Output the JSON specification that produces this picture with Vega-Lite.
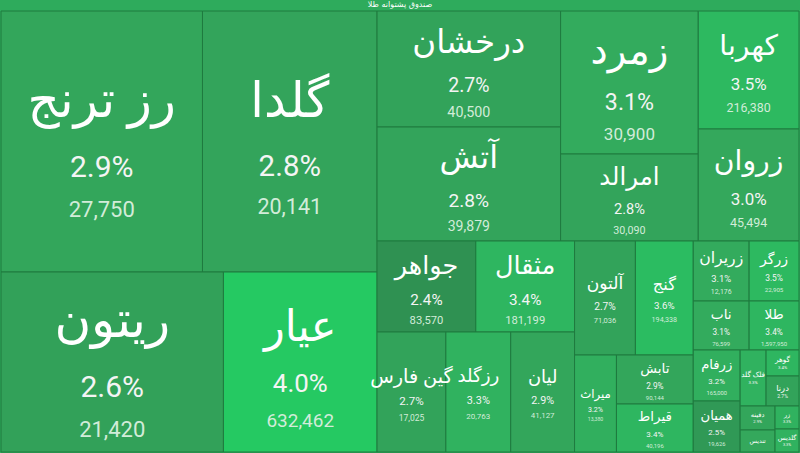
{
  "$schema": "https://vega.github.io/schema/vega-lite/v6.json",
  "width": 800,
  "height": 453,
  "autosize": {"type": "fit", "contains": "padding"},
  "padding": 0,
  "background": "#2eab5c",
  "config": {"view": {"stroke": null}},
  "title": {"text": "صندوق پشتوانه طلا", "fontSize": 8, "color": "white", "offset": 2, "fontWeight": "normal", "font": "DejaVu Sans", "anchor": "middle"},
  "data": {"values": [
    {"name": "رز ترنج", "pct": 0.029, "value": 27750, "x0": 0, "x1": 202, "y0": 12, "y1": 273},
    {"name": "گلدا", "pct": 0.028, "value": 20141, "x0": 202, "x1": 377, "y0": 12, "y1": 273},
    {"name": "ریتون", "pct": 0.026, "value": 21420, "x0": 0, "x1": 223, "y0": 273, "y1": 453},
    {"name": "عیار", "pct": 0.040, "value": 632462, "x0": 223, "x1": 377, "y0": 273, "y1": 453},
    {"name": "درخشان", "pct": 0.027, "value": 40500, "x0": 377, "x1": 561, "y0": 12, "y1": 128},
    {"name": "آتش", "pct": 0.028, "value": 39879, "x0": 377, "x1": 561, "y0": 128, "y1": 242},
    {"name": "زمرد", "pct": 0.031, "value": 30900, "x0": 561, "x1": 699, "y0": 12, "y1": 155},
    {"name": "امرالد", "pct": 0.028, "value": 30090, "x0": 561, "x1": 699, "y0": 155, "y1": 242},
    {"name": "کهربا", "pct": 0.035, "value": 216380, "x0": 699, "x1": 800, "y0": 12, "y1": 130},
    {"name": "زروان", "pct": 0.030, "value": 45494, "x0": 699, "x1": 800, "y0": 130, "y1": 242},
    {"name": "جواهر", "pct": 0.024, "value": 83570, "x0": 377, "x1": 476, "y0": 242, "y1": 333},
    {"name": "مثقال", "pct": 0.034, "value": 181199, "x0": 476, "x1": 575, "y0": 242, "y1": 333},
    {"name": "گین فارس", "pct": 0.027, "value": 17025, "x0": 377, "x1": 446, "y0": 333, "y1": 453},
    {"name": "رزگلد", "pct": 0.033, "value": 20763, "x0": 446, "x1": 511, "y0": 333, "y1": 453},
    {"name": "لیان", "pct": 0.029, "value": 41127, "x0": 511, "x1": 575, "y0": 333, "y1": 453},
    {"name": "آلتون", "pct": 0.027, "value": 71036, "x0": 575, "x1": 636, "y0": 242, "y1": 356},
    {"name": "گنج", "pct": 0.036, "value": 194338, "x0": 636, "x1": 694, "y0": 242, "y1": 356},
    {"name": "میراث", "pct": 0.032, "value": 13380, "x0": 575, "x1": 617, "y0": 356, "y1": 453},
    {"name": "تابش", "pct": 0.029, "value": 90144, "x0": 617, "x1": 694, "y0": 356, "y1": 405},
    {"name": "قیراط", "pct": 0.034, "value": 40196, "x0": 617, "x1": 694, "y0": 405, "y1": 453},
    {"name": "زریران", "pct": 0.031, "value": 12176, "x0": 694, "x1": 750, "y0": 242, "y1": 302},
    {"name": "زرگر", "pct": 0.035, "value": 22905, "x0": 750, "x1": 800, "y0": 242, "y1": 302},
    {"name": "ناب", "pct": 0.031, "value": 76599, "x0": 694, "x1": 750, "y0": 302, "y1": 351},
    {"name": "طلا", "pct": 0.034, "value": 1597950, "x0": 750, "x1": 800, "y0": 302, "y1": 351},
    {"name": "زرفام", "pct": 0.032, "value": 165000, "x0": 694, "x1": 741, "y0": 351, "y1": 402},
    {"name": "همیان", "pct": 0.025, "value": 19626, "x0": 694, "x1": 741, "y0": 402, "y1": 453},
    {"name": "فلک گلد", "pct": 0.033, "value": null, "x0": 741, "x1": 767, "y0": 351, "y1": 407},
    {"name": "گوهر", "pct": 0.034, "value": null, "x0": 767, "x1": 800, "y0": 351, "y1": 377},
    {"name": "درنا", "pct": 0.027, "value": null, "x0": 767, "x1": 800, "y0": 377, "y1": 407},
    {"name": "دفینه", "pct": 0.029, "value": null, "x0": 741, "x1": 776, "y0": 407, "y1": 431},
    {"name": "تندیس", "pct": 0.030, "value": null, "x0": 741, "x1": 776, "y0": 431, "y1": 453},
    {"name": "زر", "pct": 0.033, "value": null, "x0": 776, "x1": 800, "y0": 407, "y1": 430},
    {"name": "گلدیس", "pct": 0.033, "value": null, "x0": 776, "x1": 800, "y0": 430, "y1": 453}
  ]},
  "transform": [
    {"calculate": "(datum.x0 + datum.x1) / 2", "as": "cx"},
    {"calculate": "(datum.y0 + datum.y1) / 2", "as": "cy"},
    {"calculate": "min(50, 0.28 * (datum.x1 - datum.x0), 0.28 * (datum.y1 - datum.y0))", "as": "fs"},
    {"calculate": "(datum.x1 - datum.x0) >= 40 && (datum.y1 - datum.y0) >= 40", "as": "hasV"},
    {"calculate": "(datum.y1 - datum.y0) > 22.5", "as": "hasP"},
    {"calculate": "datum.hasV ? datum.cy - 0.8 * datum.fs : (datum.hasP ? datum.cy - 0.4 * datum.fs : datum.cy)", "as": "ny"},
    {"calculate": "datum.hasV ? datum.cy + 0.52 * datum.fs : datum.cy + 0.65 * datum.fs", "as": "py"},
    {"calculate": "datum.cy + 1.36 * datum.fs", "as": "vy"},
    {"calculate": "datum.fs * 0.6", "as": "pfs"},
    {"calculate": "datum.fs * 0.44", "as": "vfs"}
  ],
  "layer": [
    {
      "mark": {"type": "rect", "stroke": "#1f7a3f", "strokeWidth": 1},
      "encoding": {
        "x": {"field": "x0", "type": "quantitative", "scale": {"domain": [0, 800], "nice": false, "zero": false}, "axis": null},
        "x2": {"field": "x1"},
        "y": {"field": "y0", "type": "quantitative", "scale": {"domain": [12, 453], "nice": false, "zero": false, "reverse": true}, "axis": null},
        "y2": {"field": "y1"},
        "color": {"field": "pct", "type": "quantitative", "legend": null,
          "scale": {"domain": [0.024, 0.026, 0.03, 0.034, 0.04], "range": ["#2f9152", "#32a159", "#34a85c", "#2eb660", "#25c962"]}}
      }
    },
    {
      "mark": {"type": "text", "color": "white", "baseline": "middle", "align": "center", "font": "Roboto, DejaVu Sans"},
      "encoding": {
        "x": {"field": "cx", "type": "quantitative"},
        "y": {"field": "ny", "type": "quantitative"},
        "text": {"field": "name"},
        "size": {"field": "fs", "type": "quantitative", "scale": null}
      }
    },
    {
      "transform": [{"filter": "datum.hasP"}],
      "mark": {"type": "text", "color": "#f4f4f4", "baseline": "middle", "align": "center", "font": "Roboto, DejaVu Sans"},
      "encoding": {
        "x": {"field": "cx", "type": "quantitative"},
        "y": {"field": "py", "type": "quantitative"},
        "text": {"field": "pct", "format": ".1%"},
        "size": {"field": "pfs", "type": "quantitative", "scale": null}
      }
    },
    {
      "transform": [{"filter": "datum.hasV"}],
      "mark": {"type": "text", "color": "#d2ecd9", "baseline": "middle", "align": "center", "font": "Roboto, DejaVu Sans"},
      "encoding": {
        "x": {"field": "cx", "type": "quantitative"},
        "y": {"field": "vy", "type": "quantitative"},
        "text": {"field": "value", "format": ",d"},
        "size": {"field": "vfs", "type": "quantitative", "scale": null}
      }
    }
  ]
}
